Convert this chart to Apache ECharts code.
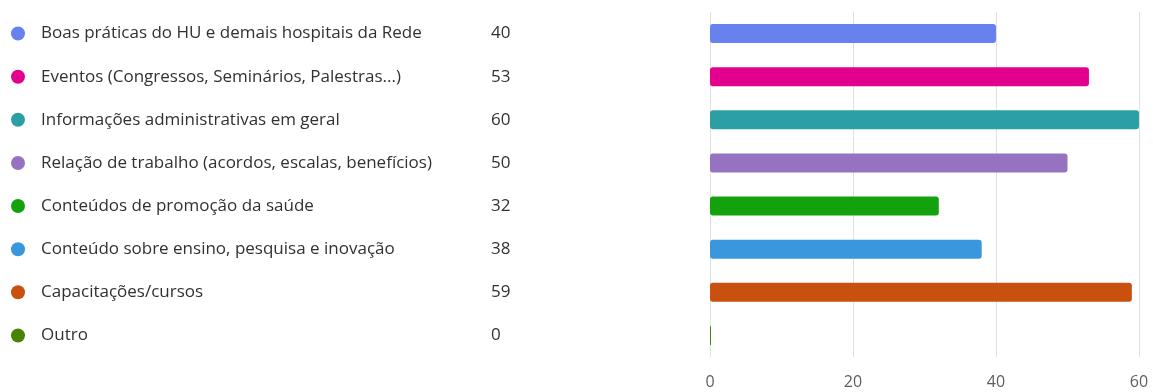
<!DOCTYPE html>
<html>
<head>
<meta charset="utf-8">
<script src="https://cdn.jsdelivr.net/npm/echarts@6/dist/echarts.min.js"></script>
<style>
  html, body { margin: 0; padding: 0; background: #ffffff; }
  #chart { width: 1153px; height: 392px; }
</style>
</head>
<body>
<div id="chart"></div>
<script>
// Survey answers: topic names, response counts and colours
const categories = [
  'Boas práticas do HU e demais hospitais da Rede',
  'Eventos (Congressos, Seminários, Palestras...)',
  'Informações administrativas em geral',
  'Relação de trabalho (acordos, escalas, benefícios)',
  'Conteúdos de promoção da saúde',
  'Conteúdo sobre ensino, pesquisa e inovação',
  'Capacitações/cursos',
  'Outro'
];
const counts = [40, 53, 60, 50, 32, 38, 59, 0];
const colors = ['#6781EE', '#E3008C', '#2C9FA5', '#9573C0', '#13A10E', '#3A96DD', '#CA5010', '#498205'];
const xTicks = [0, 20, 40, 60];

const FONT = '"Open Sans", "Noto Sans", sans-serif';

// rich styles: one coloured dot style per category
const rich = {
  name: { width: 450, fontSize: 17, color: '#323130', fontFamily: FONT },
  val: { fontSize: 17, color: '#323130', fontFamily: FONT }
};
colors.forEach((c, i) => {
  rich['d' + i] = { width: 14, height: 14, borderRadius: 7, backgroundColor: c };
  rich['g' + i] = { width: 16 };
});

const chart = echarts.init(document.getElementById('chart'), null, { renderer: 'canvas' });
chart.setOption({
  animation: false,
  grid: { left: 710, right: 14, top: 12, bottom: 35, containLabel: false },
  xAxis: {
    type: 'value',
    min: xTicks[0],
    max: xTicks[xTicks.length - 1],
    interval: 20,
    axisLine: { show: false },
    axisTick: { show: false },
    splitLine: { show: true, lineStyle: { color: '#e1e1e1', width: 1 } },
    axisLabel: { color: '#605e5c', fontSize: 16, fontFamily: FONT, margin: 17 }
  },
  yAxis: {
    type: 'category',
    inverse: true,
    data: categories,
    axisLine: { show: false },
    axisTick: { show: false },
    axisLabel: {
      align: 'left',
      margin: 699,
      formatter: (v, i) => '{d' + i + '|}{g' + i + '|}{name|' + v + '}{val|' + counts[i] + '}',
      rich: rich
    }
  },
  series: [{
    type: 'bar',
    data: counts.map((v, i) => ({ value: v, itemStyle: { color: colors[i] } })),
    barWidth: 19,
    barMinHeight: 1,
    itemStyle: { borderRadius: 3 }
  }]
});
</script>
</body>
</html>
